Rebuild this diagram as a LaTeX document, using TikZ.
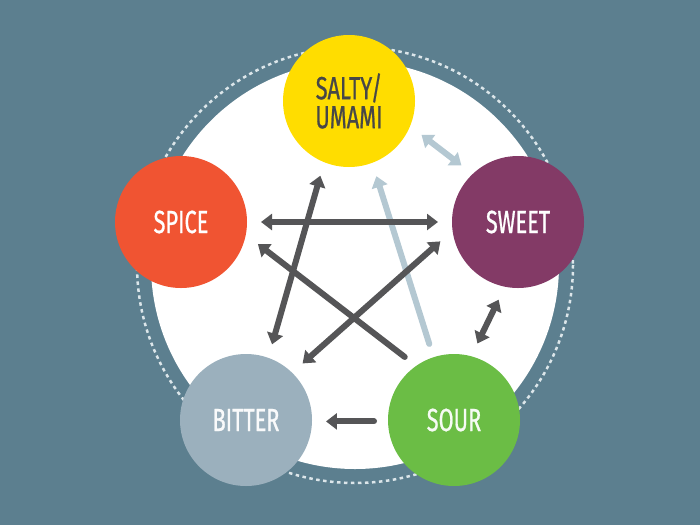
\documentclass[tikz,border=0pt]{standalone}
\usepackage{fontspec}
\newfontfamily\tastefont{Fira Sans}[FakeStretch=0.68,FakeBold=0.7]
\usetikzlibrary{arrows.meta}
\definecolor{slate}{HTML}{5C7F8F}
\definecolor{saltycol}{HTML}{FFDD00}
\definecolor{sweetcol}{HTML}{833A66}
\definecolor{spicecol}{HTML}{F05432}
\definecolor{sourcol}{HTML}{6BBD45}
\definecolor{bittercol}{HTML}{9BB0BD}
\definecolor{arrowdark}{HTML}{555557}
\definecolor{arrowlight}{HTML}{B4C8D2}
\definecolor{ringcol}{HTML}{DCE6EA}

\begin{document}
\begin{tikzpicture}[x=1pt,y=-1pt,>={Triangle[length=11pt,width=16pt]},line cap=round,
  taste/.style={circle,minimum size=132pt,inner sep=0pt,outer sep=14pt,align=center,
    font=\tastefont\fontsize{32}{29}\selectfont,text=white},
  strong/.style={draw=arrowdark,line width=6pt},
  faint/.style={draw=arrowlight,line width=6pt}]
  % background and rings
  \fill[slate] (0,0) rectangle (700,525);
  \useasboundingbox (0,0) rectangle (700,525);
  \draw[ringcol,line width=2.5pt,line cap=butt,dash pattern=on 3.5pt off 3.5pt] (355,265) circle (218);
  \fill[white] (355,265) circle (204);

  % the five tastes
  \node[taste,fill=saltycol,text=black!72] (salty) at (349,101) {SALTY/\\UMAMI};
  \node[taste,fill=spicecol] (spice) at (181,222) {SPICE};
  \node[taste,fill=sweetcol] (sweet) at (518,222) {SWEET};
  \node[taste,fill=bittercol,text=white!94!bittercol] (bitter) at (246,420) {BITTER};
  \node[taste,fill=sourcol,text=white!94!sourcol] (sour) at (454,420) {SOUR};

  \path (salty.-25) edge[faint,<->] (sweet.135)
  (sour.108) edge[faint,->] (salty.-70)
  (spice.0) edge[strong,<->] (sweet.180)
  (salty.249) edge[strong,<->] (bitter.71)
  (sour.128) edge[strong,->] (spice.-16)
  (sweet.194) edge[strong,<->] (bitter.45)
  (sweet.-104) edge[strong,<->] (sour.73)
  (sour.181) edge[strong,->] (bitter.-1);
\end{tikzpicture}
\end{document}
